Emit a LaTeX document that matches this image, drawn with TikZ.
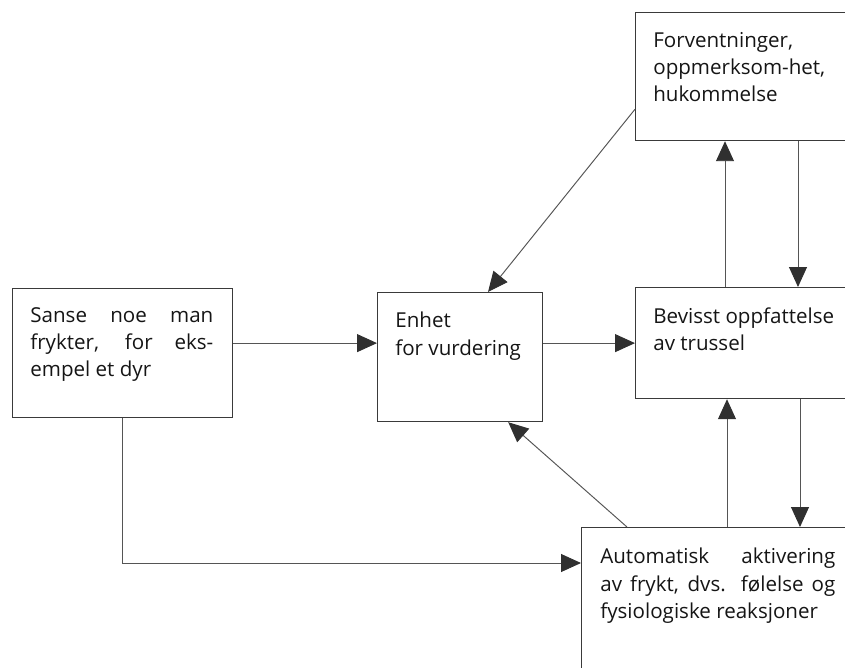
\documentclass[tikz,border=0pt]{standalone}
\usepackage{fontspec}
\setmainfont{Open Sans}
\usetikzlibrary{positioning,calc,arrows.meta}

\definecolor{boxgray}{HTML}{3A3A3A}
\definecolor{linegray}{HTML}{555555}
\definecolor{tipgray}{HTML}{303030}
\definecolor{textgray}{HTML}{151515}

\begin{document}
\begin{tikzpicture}
  [x=.2cm,y=.2cm,
   box/.style={draw=boxgray, line width=.7pt, rectangle, inner sep=0pt, anchor=north west},
   txt/.style={inner sep=0pt, text=textgray, font=\fontsize{11.7}{15.4}\selectfont},
   arr/.style={draw=linegray, line width=.55pt, -{Triangle[length=4mm, width=3.6mm, color=tipgray]}}]
  \clip (0,0) rectangle (84.5,66.7);

  % boxes
  \node[box, minimum width=4.4cm, minimum height=2.58cm] (n1) at (1.2,37.9) {};
  \node[box, minimum width=3.3cm, minimum height=2.58cm] (n2) at (37.7,37.5) {};
  \node[box, minimum width=4.8cm, minimum height=2.22cm] (n3) at (63.5,38.0) {};
  \node[box, minimum width=4.8cm, minimum height=2.56cm] (n4) at (63.5,65.5) {};
  \node[box, minimum width=5.5cm, minimum height=3.4cm] (n5) at (58.1,14.0) {};

  % texts
  \node[txt, text width=3.66cm, align=justify, below right=.38cm and .36cm of n1.north west] (t1)
    {Sanse noe man\linebreak frykter, for eks-\linebreak empel et dyr};
  \node[txt, align=left, below right=.40cm and .36cm of n2.north west] (t2)
    {Enhet\\for vurdering};
  \node[txt, align=left, below right=.40cm and .36cm of n3.north west] (t3)
    {Bevisst oppfattelse\\av trussel};
  \node[txt, align=left, below right=.40cm and .36cm of n4.north west] (t4)
    {Forventninger,\\oppmerksom-het,\\hukommelse};
  \node[txt, text width=4.7cm, align=justify, below right=.42cm and .38cm of n5.north west] (t5)
    {Automatisk aktivering\linebreak av frykt, dvs. følelse og\linebreak fysiologiske reaksjoner};

  % arrow ends
  \coordinate (p1) at ($(n4.south west)+(0,3.2)$);
  \coordinate (p2) at ($(n2.north west)+(11.1,0)$);
  \coordinate (p3) at ($(n5.north west)+(4.6,0)$);
  \coordinate (p4) at ($(n2.south east)+(-3.5,0)$);
  \coordinate (p5) at ($(n3.north west)+(9,0)$);
  \coordinate (p6) at ($(n4.south west)+(16.3,0)$);
  \coordinate (p7) at ($(n5.north west)+(14.6,0)$);
  \coordinate (p8) at ($(n5.north west)+(21.9,0)$);
  \coordinate (p9) at ($(n1.south west)+(11,0)$);
  \coordinate (p10) at ($(n5.north west)+(0,-3.6)$);

  \foreach \from/\to in {n1.east |- n3/n2.west |- n3, n2.east |- n3/n3.west, p1/p2, p3/p4,
                         p5/p5 |- n4.south, p6/p6 |- n3.north, p7/p7 |- n3.south, p8 |- n3.south/p8}
    \draw[arr] (\from) -- (\to);

  \draw[arr] (p9) |- (p10);
\end{tikzpicture}
\end{document}
